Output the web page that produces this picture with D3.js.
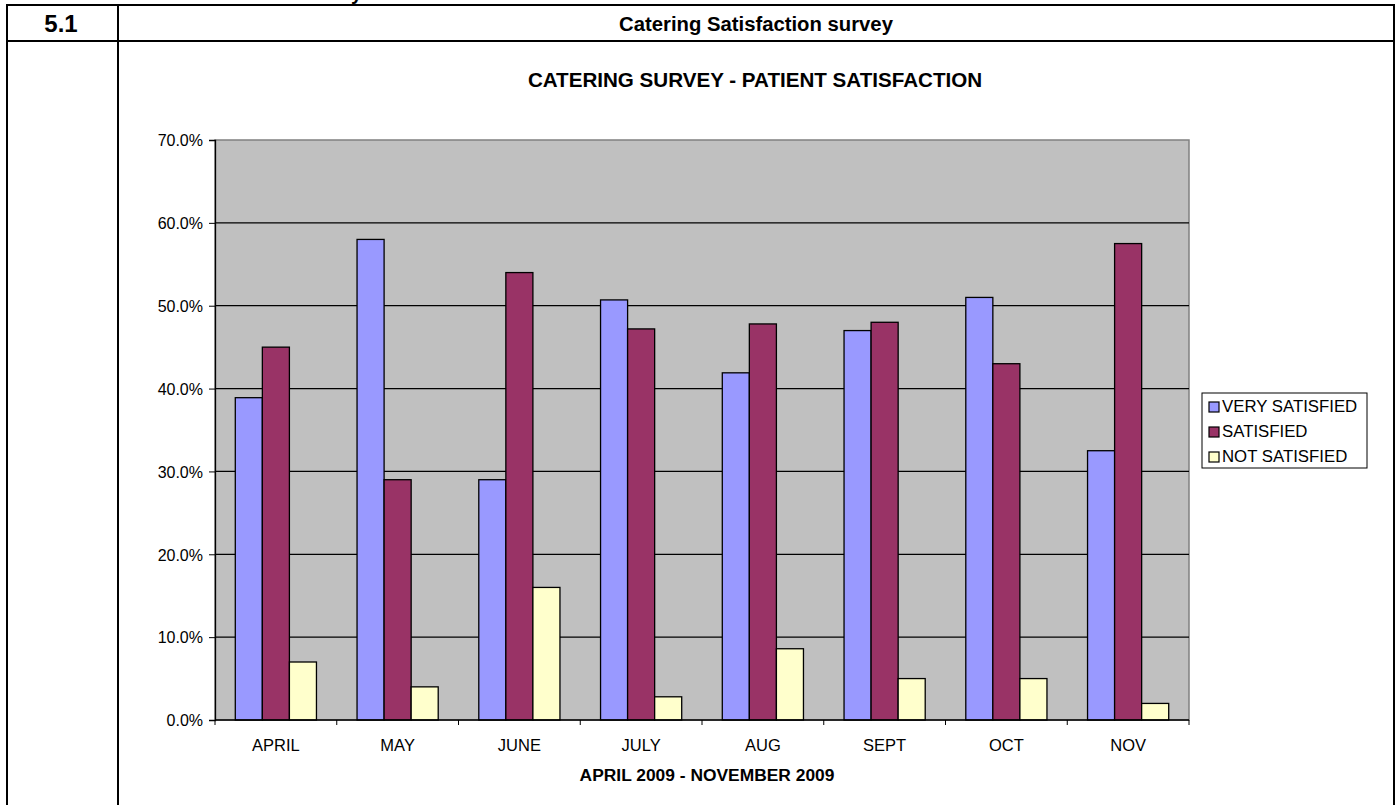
<!DOCTYPE html>
<html>
<head>
<meta charset="utf-8">
<script src="https://cdn.jsdelivr.net/npm/d3@7/dist/d3.min.js"></script>
<style>
  html, body { margin: 0; padding: 0; background: #fff; }
  svg { display: block; font-family: "Liberation Sans", Arial, sans-serif; }
</style>
</head>
<body>
<svg id="chart" width="1399" height="805"></svg>
<script>
// Monthly catering survey results (share of patients, %)
const months = ["APRIL", "MAY", "JUNE", "JULY", "AUG", "SEPT", "OCT", "NOV"];
const seriesNames = ["VERY SATISFIED", "SATISFIED", "NOT SATISFIED"];
const verySatisfied = [38.9, 58.0, 29.0, 50.7, 41.9, 47.0, 51.0, 32.5];
const satisfied     = [45.0, 29.0, 54.0, 47.2, 47.8, 48.0, 43.0, 57.5];
const notSatisfied  = [7.0, 4.0, 16.0, 2.8, 8.6, 5.0, 5.0, 2.0];
const seriesColors = ["#9999FF", "#993366", "#FFFFCC"];
const yTicks = [0, 10, 20, 30, 40, 50, 60, 70];

const seriesValues = [verySatisfied, satisfied, notSatisfied];
const table = months.map((m, i) => ({
  month: m,
  values: seriesNames.map((s, j) => ({ key: s, value: seriesValues[j][i], idx: j }))
}));

const svg = d3.select("#chart");

// Document table frame
const frame = svg.append("g").attr("stroke", "#000").attr("stroke-width", 2).attr("fill", "none");
frame.append("line").attr("x1", 7).attr("x2", 1394).attr("y1", 5).attr("y2", 5);
frame.append("line").attr("x1", 7).attr("x2", 1394).attr("y1", 41).attr("y2", 41);
frame.append("line").attr("x1", 7).attr("x2", 7).attr("y1", 4).attr("y2", 805);
frame.append("line").attr("x1", 118).attr("x2", 118).attr("y1", 4).attr("y2", 805);
frame.append("line").attr("x1", 1394).attr("x2", 1394).attr("y1", 4).attr("y2", 805);

// Section heading running off the top of the page
svg.append("text").attr("x", 362).attr("y", 0).attr("text-anchor", "end")
  .attr("font-size", 20).attr("font-weight", "bold").text("Satisfaction Survey");

svg.append("text").attr("x", 61).attr("y", 32).attr("text-anchor", "middle")
  .attr("font-size", 24).attr("font-weight", "bold").text("5.1");
svg.append("text").attr("x", 756).attr("y", 31).attr("text-anchor", "middle")
  .attr("font-size", 20.3).attr("font-weight", "bold").text("Catering Satisfaction survey");

// Chart geometry
const plotLeft = 215, plotRight = 1189, plotTop = 140, plotBottom = 720;

const x0 = d3.scaleBand().domain(months).range([plotLeft, plotRight]).padding(0);
const bw = x0.bandwidth();
const x1 = d3.scaleBand().domain(seriesNames).range([bw / 6, bw * 5 / 6]).padding(0);
const y = d3.scaleLinear().domain([0, 70]).range([plotBottom, plotTop]);

svg.append("text").attr("x", 755).attr("y", 87).attr("text-anchor", "middle")
  .attr("font-size", 20.6).attr("font-weight", "bold")
  .text("CATERING SURVEY - PATIENT SATISFACTION");

// Plot area
svg.append("rect").attr("x", plotLeft).attr("y", plotTop)
  .attr("width", plotRight - plotLeft).attr("height", plotBottom - plotTop)
  .attr("fill", "#C0C0C0").attr("stroke", "#808080").attr("stroke-width", 1.5);

// Gridlines
svg.append("g").selectAll("line").data(yTicks.filter(t => t > 0 && t < 70)).join("line")
  .attr("x1", plotLeft).attr("x2", plotRight)
  .attr("y1", d => y(d)).attr("y2", d => y(d))
  .attr("stroke", "#000").attr("stroke-width", 1.2);

// Bars
const groups = svg.append("g").selectAll("g").data(table).join("g")
  .attr("transform", d => `translate(${x0(d.month)},0)`);
groups.selectAll("rect").data(d => d.values).join("rect")
  .attr("x", d => x1(d.key))
  .attr("y", d => y(d.value))
  .attr("width", x1.bandwidth())
  .attr("height", d => y(0) - y(d.value))
  .attr("fill", d => seriesColors[d.idx])
  .attr("stroke", "#000").attr("stroke-width", 1.3);

// Y axis
const yAxis = d3.axisLeft(y).tickValues(yTicks).tickSize(6).tickPadding(6)
  .tickFormat(d => d.toFixed(1) + "%");
const yg = svg.append("g").attr("transform", `translate(${plotLeft},0)`).call(yAxis);
yg.select(".domain").attr("stroke", "#000").attr("stroke-width", 1.3);
yg.selectAll(".tick line").attr("stroke", "#000");
yg.selectAll(".tick text").attr("font-size", 16).attr("fill", "#000")
  .attr("x", -12).attr("dy", "0.36em")
  .attr("font-family", "Liberation Sans, Arial, sans-serif");

// X axis: ticks on category boundaries
const xg = svg.append("g").attr("transform", `translate(0,${plotBottom})`);
xg.append("line").attr("x1", plotLeft).attr("x2", plotRight).attr("y1", 0).attr("y2", 0)
  .attr("stroke", "#000").attr("stroke-width", 1.3);
const boundaries = months.map(m => x0(m)).concat([plotRight]);
xg.selectAll("line.tk").data(boundaries).join("line").attr("class", "tk")
  .attr("x1", d => d).attr("x2", d => d).attr("y1", 0).attr("y2", 5)
  .attr("stroke", "#000").attr("stroke-width", 1);
xg.selectAll("text").data(months).join("text")
  .attr("x", d => x0(d) + bw / 2).attr("y", 31)
  .attr("text-anchor", "middle").attr("font-size", 16.5).text(d => d);

svg.append("text").attr("x", 707).attr("y", 781).attr("text-anchor", "middle")
  .attr("font-size", 17.4).attr("font-weight", "bold").text("APRIL 2009 - NOVEMBER 2009");

// Legend
const lg = svg.append("g").attr("transform", "translate(1202,393)");
lg.append("rect").attr("width", 165).attr("height", 75)
  .attr("fill", "#fff").attr("stroke", "#000").attr("stroke-width", 1);
const li = lg.selectAll("g").data(seriesNames).join("g")
  .attr("transform", (d, i) => `translate(0,${19 + i * 25})`);
li.append("rect").attr("x", 7).attr("y", -10).attr("width", 10).attr("height", 10)
  .attr("fill", (d, i) => seriesColors[i]).attr("stroke", "#000").attr("stroke-width", 1.2);
li.append("text").attr("x", 20).attr("y", 0).attr("font-size", 16.8).text(d => d);
</script>
</body>
</html>
